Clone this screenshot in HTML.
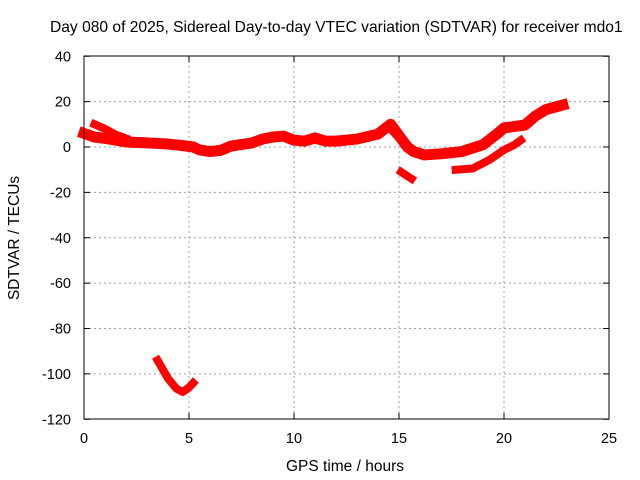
<!DOCTYPE html>
<html><head><meta charset="utf-8"><style>
body{margin:0;background:#fff;}
svg{display:block;font-family:"Liberation Sans",sans-serif;}
</style></head><body>
<svg id="chart" width="640" height="480" viewBox="0 0 640 480">
<text x="50" y="32" font-size="15.6" text-anchor="start">Day 080 of 2025, Sidereal Day-to-day VTEC variation (SDTVAR) for receiver mdo1</text>
<text x="345" y="471" font-size="15.5" text-anchor="middle">GPS time / hours</text>
<text x="0" y="0" font-size="15.5" text-anchor="middle" transform="translate(19,238) rotate(-90)">SDTVAR / TECUs</text>
<g id="grid"></g>
<g id="ticks"></g>
<g id="series"></g>
<rect x="84" y="56" width="525" height="363" fill="none" stroke="#000" stroke-width="1"/>
</svg>
<script>
const xTicks=[0,5,10,15,20,25];
const yTicks=[40,20,0,-20,-40,-60,-80,-100,-120];
const trackMain=[[0,6],[0.5,4.4],[1,3.8],[2,2.2],[3,1.8],[4,1.3],[4.8,0.5],[5.2,0],[5.5,-1.3],[6,-2],[6.5,-1.5],[7,0.4],[8,1.8],[8.5,3.5],[9,4.4],[9.5,4.8],[10,3],[10.5,2.6],[11,4],[11.5,2.6],[12,2.6],[13,3.5],[14,5.7],[14.6,10],[15,5],[15.4,0],[15.7,-2],[16.2,-3.5],[17,-3],[18,-2],[19,1],[19.7,6],[20,8.4],[21,9.7],[21.5,13.7],[22,16.5],[22.8,18.5]];
const trackUpper=[[0.5,10],[1,8],[1.5,5.5],[2,3.8]];
const trackBranch=[[14.6,8],[15,4],[15.5,-0.5]];
const trackShort=[[15.1,-11],[15.6,-14]];
const trackLower=[[17.7,-10],[18.5,-9.5],[19.3,-5.7],[20,-1.3],[20.5,1],[20.8,3]];
const trackLow=[[3.5,-94],[4,-102],[4.4,-106.5],[4.7,-108],[5,-106],[5.2,-104]];
const tracks=[trackMain,trackUpper,trackBranch,trackShort,trackLower,trackLow];
const X=h=>84+h*21, Y=v=>147-v*363/160;
const NS="http://www.w3.org/2000/svg";
const grid=document.getElementById('grid'),ticks=document.getElementById('ticks'),ser=document.getElementById('series');
function mk(tag,attrs,parent){const e=document.createElementNS(NS,tag);for(const k in attrs)e.setAttribute(k,attrs[k]);parent.appendChild(e);return e;}
xTicks.forEach(t=>{const x=X(t);
 if(t>0&&t<25){const g=mk('line',{x1:x,x2:x,y1:56,y2:419,stroke:'#a0a0a0','stroke-dasharray':'2,3'},grid);}
 mk('line',{x1:x,x2:x,y1:419,y2:413,stroke:'#000'},ticks);mk('line',{x1:x,x2:x,y1:56,y2:62,stroke:'#000'},ticks);
 const l=mk('text',{x:x,y:443,'font-size':14.5,'text-anchor':'middle'},ticks);l.textContent=t;
 });
yTicks.forEach(t=>{const y=Y(t);
 if(t<40&&t>-120){const g=mk('line',{x1:84,x2:609,y1:y,y2:y,stroke:'#a0a0a0','stroke-dasharray':'2,3'},grid);}
 mk('line',{x1:84,x2:90,y1:y,y2:y,stroke:'#000'},ticks);mk('line',{x1:609,x2:603,y1:y,y2:y,stroke:'#000'},ticks);
 const l=mk('text',{x:71,y:y+5,'font-size':14.5,'text-anchor':'end'},ticks);l.textContent=t;
 });
tracks.forEach((tr,i)=>{
 const p=mk('polyline',{points:tr.map(d=>X(d[0])+','+Y(d[1])).join(' '),fill:'none',stroke:'#ff0000','stroke-width':i===0?11:8,'stroke-linejoin':'round','stroke-linecap':'square'},ser);
 
 
});
</script>
</body></html>
